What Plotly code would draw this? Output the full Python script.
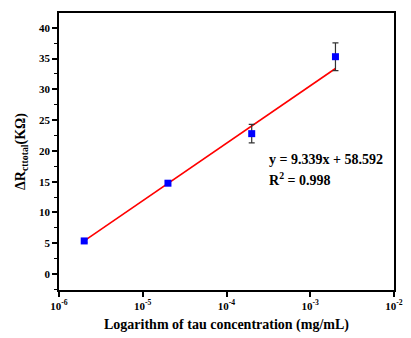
import numpy as np
import plotly.graph_objects as go

# Tau concentrations (mg/mL) and measured charge-transfer resistance change (kOhm)
conc = [2e-6, 2e-5, 2e-4, 2e-3]
delta_r = [5.37, 14.75, 22.8, 35.3]
delta_r_err = [0.25, 0.3, 1.5, 2.25]

# Linear fit versus log10(concentration)
slope = 9.339
intercept = 58.592
r_squared = 0.998

fit_x = np.array([conc[0], conc[-1]])
fit_y = slope * np.log10(fit_x) + intercept

x_tickvals = [1e-6, 1e-5, 1e-4, 1e-3, 1e-2]
x_ticktext = ["10<sup>-6</sup>", "10<sup>-5</sup>", "10<sup>-4</sup>", "10<sup>-3</sup>", "10<sup>-2</sup>"]
y_tickvals = [0, 5, 10, 15, 20, 25, 30, 35, 40]

serif = "Liberation Serif"

fig = go.Figure()
fig.add_trace(go.Scatter(
    x=fit_x, y=fit_y, mode="lines",
    line=dict(color="#ff0000", width=1.6),
    showlegend=False,
))
fig.add_trace(go.Scatter(
    x=conc, y=delta_r, mode="markers",
    marker=dict(symbol="square", size=7, color="#0000ff"),
    error_y=dict(type="data", array=delta_r_err, visible=True,
                 color="#333333", thickness=1.2, width=3),
    showlegend=False,
))

fig.add_annotation(
    x=0.62, y=18.6, xref="paper", yref="y", xanchor="left", yanchor="middle",
    text=f"<b>y = {slope}x + {intercept}</b>", showarrow=False,
    font=dict(family=serif, size=14, color="black"),
)
fig.add_annotation(
    x=0.62, y=15.4, xref="paper", yref="y", xanchor="left", yanchor="middle",
    text=f"<b>R<sup>2</sup> = {r_squared}</b>", showarrow=False,
    font=dict(family=serif, size=14, color="black"),
)

fig.update_layout(
    width=411, height=338,
    margin=dict(l=59, r=8, t=13, b=48),
    paper_bgcolor="white", plot_bgcolor="white",
    font=dict(family=serif, color="black"),
    xaxis=dict(
        type="log", range=[-6, -2],
        tickvals=x_tickvals, ticktext=x_ticktext,
        tickfont=dict(family=serif, size=11, color="black", weight="bold"),
        ticks="outside", ticklen=5, tickwidth=1.5, tickcolor="black",
        showline=True, linecolor="black", linewidth=1.6, mirror=True,
        showgrid=False, zeroline=False,
        title=dict(text="<b>Logarithm of tau concentration (mg/mL)</b>",
                   font=dict(family=serif, size=14, color="black"), standoff=8),
    ),
    yaxis=dict(
        range=[-2.6, 42.4],
        tickvals=y_tickvals,
        tickfont=dict(family=serif, size=11, color="black", weight="bold"),
        ticks="outside", ticklen=5, tickwidth=1.5, tickcolor="black",
        minor=dict(dtick=2.5, tick0=0, ticks="outside", ticklen=3, tickwidth=1.2, tickcolor="black"),
        showline=True, linecolor="black", linewidth=1.6, mirror=True,
        showgrid=False, zeroline=False,
        title=dict(text="<b>ΔR<sub>cttotal</sub>(KΩ)</b>",
                   font=dict(family=serif, size=14, color="black"), standoff=10),
    ),
)

fig.write_html("out.html")
